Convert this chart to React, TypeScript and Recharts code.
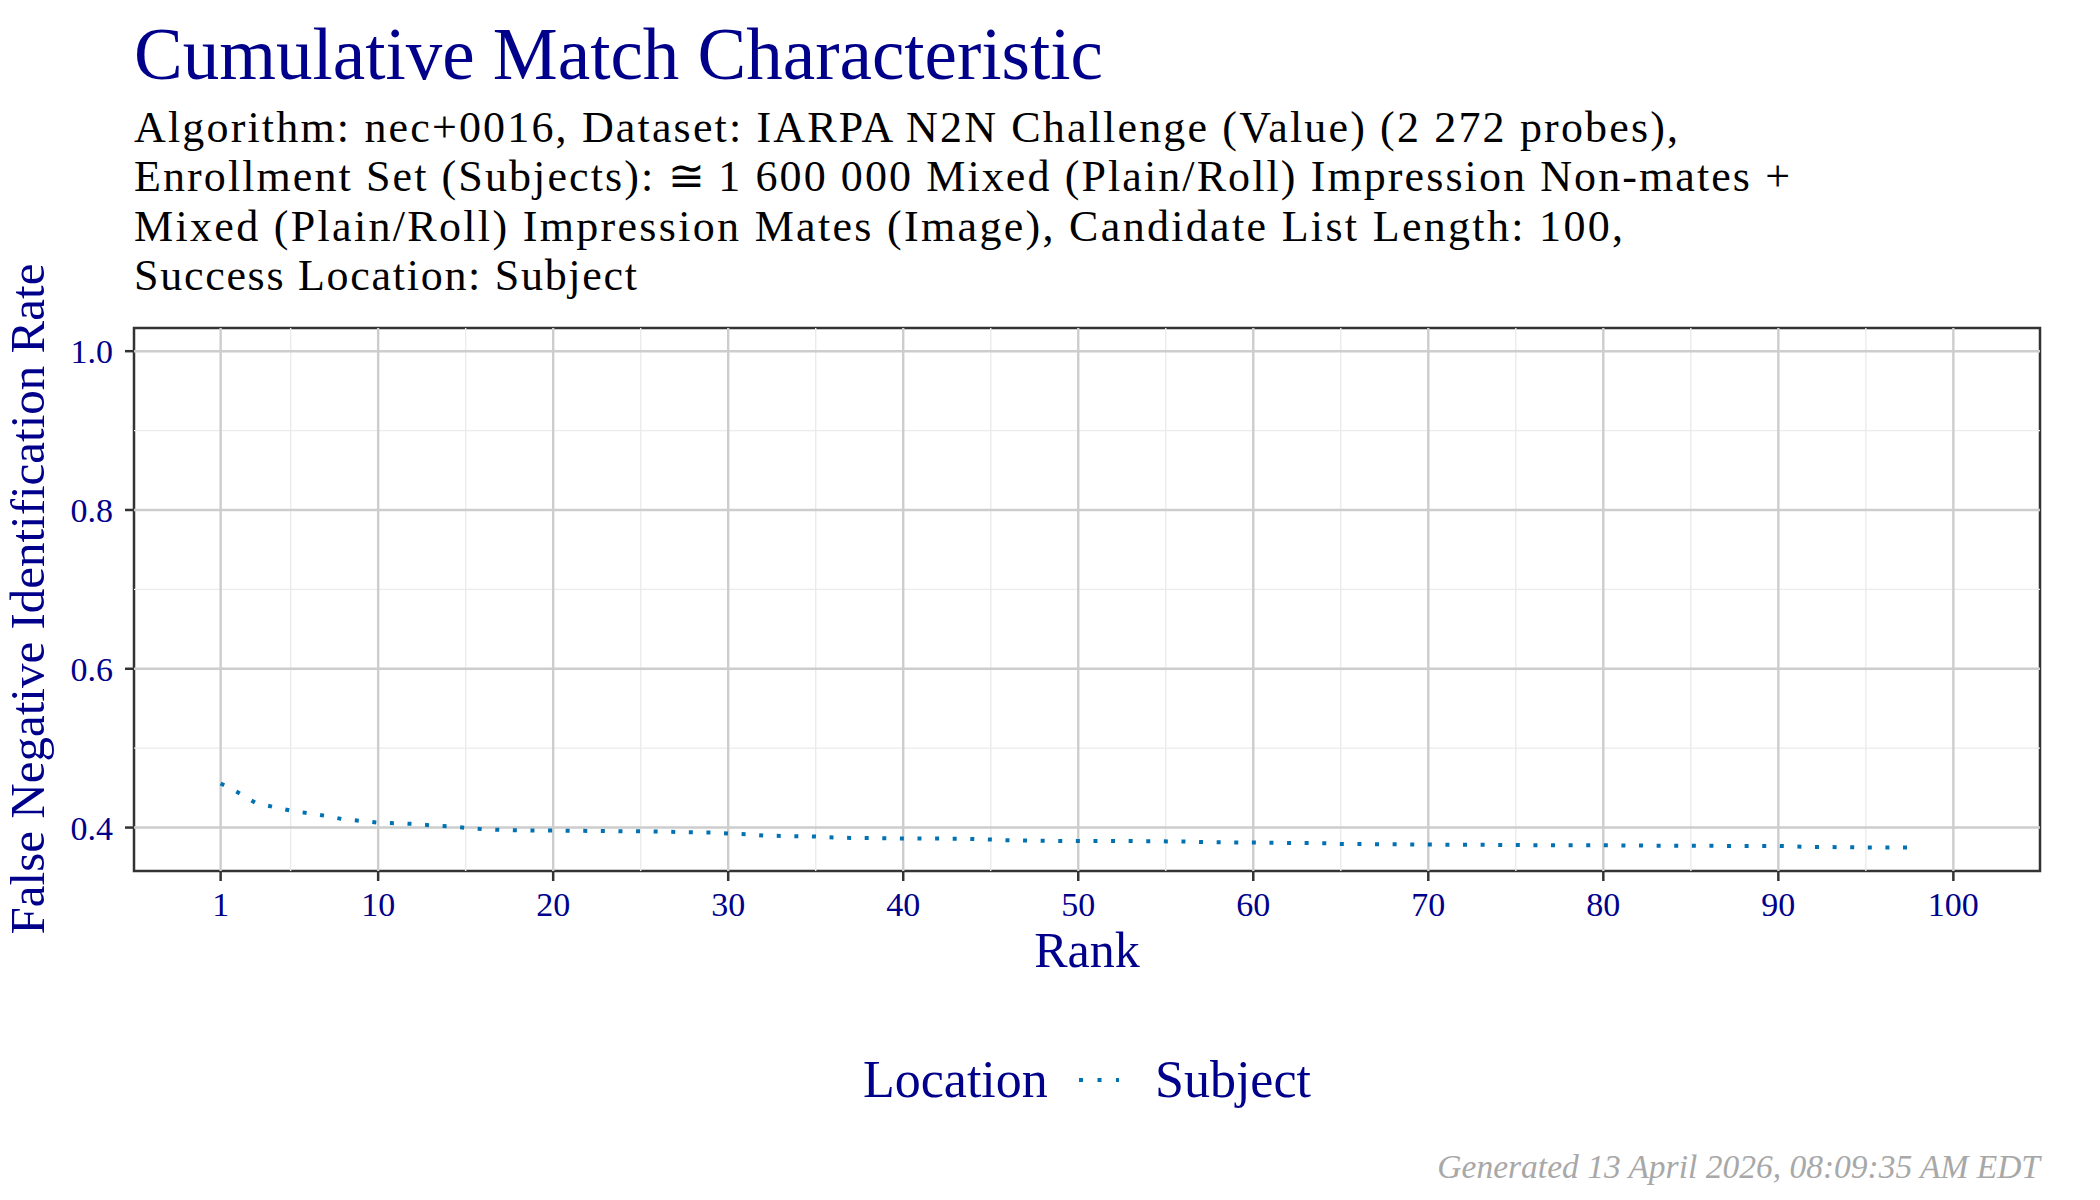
import React from 'react';
import { LineChart, Line, XAxis, YAxis, ReferenceLine, ReferenceArea } from 'recharts';

const NAVY = '#00008B';
const SERIES_BLUE = '#0072B2';
const FONT = '"Liberation Serif", "Times New Roman", serif';

// ranks, with FNIR estimated at each
const ranks = [
  1, 2, 3, 4, 5, 6, 7, 8, 9, 10, 11, 12, 13, 14, 15, 16, 17, 18, 19, 20,
  22, 24, 26, 28, 29, 30, 31, 32, 34, 35, 36, 37, 39, 40, 42, 44, 45, 46, 47, 49,
  52, 54, 56, 57, 58, 60, 62, 64, 65, 67, 70, 74, 76, 80, 82, 87, 90, 91, 92, 94, 96, 98,
];
const fnir = [
  0.4555, 0.4441, 0.4311, 0.4261, 0.4214, 0.4181, 0.4147, 0.4105, 0.4084, 0.4063,
  0.4055, 0.4046, 0.4029, 0.4017, 0.3996, 0.3979, 0.3971, 0.3966, 0.3962, 0.3962,
  0.3958, 0.3954, 0.395, 0.3941, 0.3937, 0.3924, 0.3916, 0.3899, 0.3891, 0.3887,
  0.3874, 0.387, 0.3866, 0.3861, 0.3861, 0.3857, 0.3849, 0.384, 0.3836, 0.3832,
  0.3832, 0.3828, 0.3824, 0.3819, 0.3815, 0.3811, 0.3807, 0.3803, 0.3794, 0.379,
  0.3786, 0.3782, 0.3777, 0.3777, 0.3773, 0.3769, 0.3769, 0.3761, 0.3756, 0.3752,
  0.3748, 0.3748,
];

const xTicks = [1, 10, 20, 30, 40, 50, 60, 70, 80, 90, 100];
const xMinor = [5, 15, 25, 35, 45, 55, 65, 75, 85, 95];
const yTicks = [0.4, 0.6, 0.8, 1.0];
const yMinor = [0.5, 0.7, 0.9];

const X_DOMAIN: [number, number] = [-3.95, 104.95];
const Y_DOMAIN: [number, number] = [0.3453, 1.0292];

const subtitleLines = [
  'Algorithm: nec+0016, Dataset: IARPA N2N Challenge (Value) (2 272 probes),',
  'Enrollment Set (Subjects): \u2245\u20091 600 000 Mixed (Plain/Roll) Impression Non-mates +',
  'Mixed (Plain/Roll) Impression Mates (Image), Candidate List Length: 100,',
  'Success Location: Subject',
];
// widths the subtitle lines take in the reference
const subtitleWidths = [1544, 1656, 1489, 503];

const data = ranks.map((r, i) => ({ rank: r, fnir: fnir[i] }));

export default function App() {
  return (
    <div style={{ position: 'absolute', left: 0, top: 0, width: 2100, height: 1200, background: '#fff' }}>
      <LineChart
        width={2100}
        height={1200}
        data={data}
        margin={{ top: 328, right: 60, bottom: 269, left: 54 }}
      >
        <XAxis
          dataKey="rank"
          type="number"
          domain={X_DOMAIN}
          ticks={xTicks}
          allowDataOverflow
          axisLine={false}
          tickLine={{ stroke: '#333333', strokeWidth: 2.5 }}
          tickSize={10}
          tickMargin={11}
          height={60}
          tick={{ fill: NAVY, fontSize: 34, fontFamily: FONT }}
          interval={0}
        />
        <YAxis
          type="number"
          domain={Y_DOMAIN}
          ticks={yTicks}
          allowDataOverflow
          axisLine={false}
          tickLine={{ stroke: '#333333', strokeWidth: 2.5 }}
          tickSize={9}
          tickMargin={12}
          width={80}
          tick={{ fill: NAVY, fontSize: 34, fontFamily: FONT }}
          tickFormatter={(v: number) => v.toFixed(1)}
          interval={0}
        />

        {/* minor grid */}
        {xMinor.map((v) => (
          <ReferenceLine key={'xm' + v} x={v} stroke="#EBEBEB" strokeWidth={1.4} />
        ))}
        {yMinor.map((v) => (
          <ReferenceLine key={'ym' + v} y={v} stroke="#EBEBEB" strokeWidth={1.4} />
        ))}
        {/* major grid */}
        {xTicks.map((v) => (
          <ReferenceLine key={'xM' + v} x={v} stroke="#CDCDCD" strokeWidth={2.4} />
        ))}
        {yTicks.map((v) => (
          <ReferenceLine key={'yM' + v} y={v} stroke="#CDCDCD" strokeWidth={2.4} />
        ))}

        <Line
          type="linear"
          dataKey="fnir"
          name="Subject"
          stroke={SERIES_BLUE}
          strokeWidth={4}
          strokeDasharray="4 13.6"
          dot={false}
          activeDot={false}
          isAnimationActive={false}
        />

        {/* panel border */}
        <ReferenceArea
          x1={X_DOMAIN[0]}
          x2={X_DOMAIN[1]}
          y1={Y_DOMAIN[0]}
          y2={Y_DOMAIN[1]}
          fill="none"
          fillOpacity={0}
          stroke="#333333"
          strokeWidth={2.5}
          ifOverflow="visible"
        />
      </LineChart>

      <svg
        width={2100}
        height={1200}
        style={{ position: 'absolute', left: 0, top: 0, pointerEvents: 'none' }}
        fontFamily={FONT}
      >
        <text x={134} y={79} fontSize={73} fill={NAVY}>
          Cumulative Match Characteristic
        </text>
        {subtitleLines.map((line, i) => (
          <text
            key={i}
            x={134}
            y={142 + i * 49.3}
            fontSize={44}
            fill="#000"
            textLength={subtitleWidths[i]}
            lengthAdjust="spacing"
          >
            {line}
          </text>
        ))}

        <text
          transform="translate(44, 599) rotate(-90)"
          textAnchor="middle"
          fontSize={49}
          fill={NAVY}
        >
          False Negative Identification Rate
        </text>

        <text x={1087} y={967} textAnchor="middle" fontSize={50} fill={NAVY}>
          Rank
        </text>

        {/* legend */}
        <text x={863} y={1097} fontSize={52} fill={NAVY}>
          Location
        </text>
        <line
          x1={1079}
          y1={1080}
          x2={1119}
          y2={1080}
          stroke={SERIES_BLUE}
          strokeWidth={4}
          strokeDasharray="4 14.5"
        />
        <text x={1155} y={1097} fontSize={52} fill={NAVY}>
          Subject
        </text>

        <text x={2040} y={1178} textAnchor="end" fontSize={33.5} fontStyle="italic" fill="#A8A8A8">
          Generated 13 April 2026, 08:09:35 AM EDT
        </text>
      </svg>
    </div>
  );
}
